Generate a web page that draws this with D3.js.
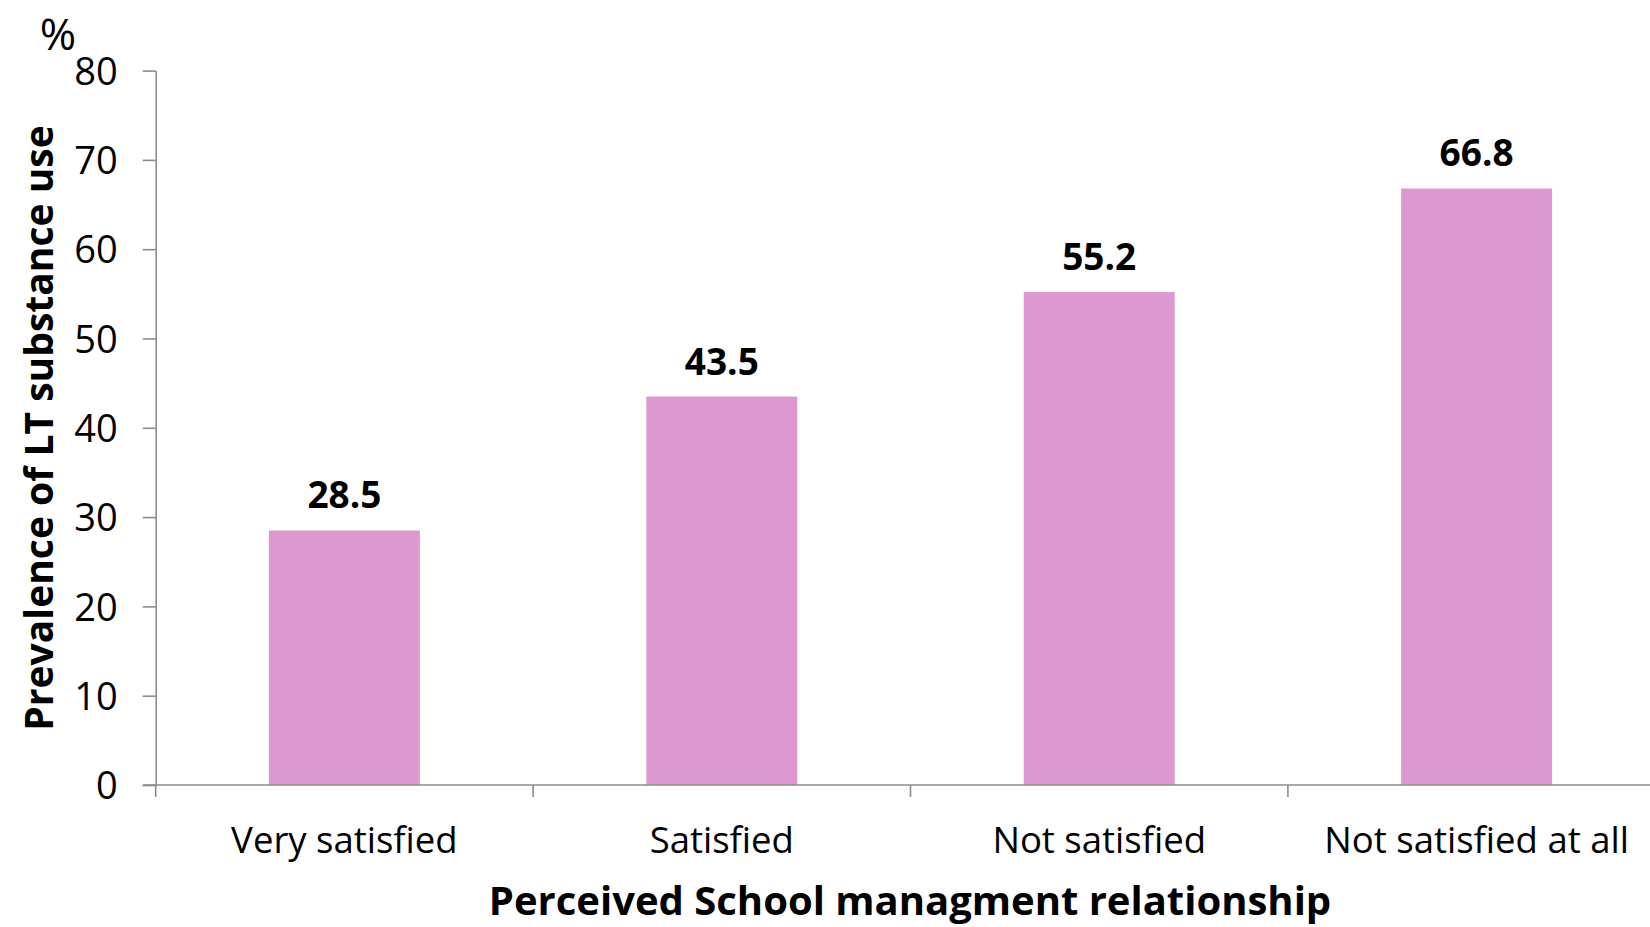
<!DOCTYPE html>
<html>
<head>
<meta charset="utf-8">
<script src="https://cdn.jsdelivr.net/npm/d3@7"></script>
<style>
  html, body { margin: 0; padding: 0; background: #fff; }
  svg { display: block; font-family: 'Open Sans', sans-serif; }
  .axis path, .axis line { stroke: #8c8c8c; stroke-width: 1.6; }
  .axis text { fill: #000; font-size: 36.5px; font-family: 'Open Sans', sans-serif; }
  .y.axis text { font-size: 38px; }
  .bar-label { font-size: 37px; font-weight: bold; fill: #000; }
  .axis-title { font-size: 40px; font-weight: bold; fill: #000; }
</style>
</head>
<body>
<div id="chart"></div>
<script>
const categories = ['Very satisfied', 'Satisfied', 'Not satisfied', 'Not satisfied at all']
const values = [28.5, 43.5, 55.2, 66.8]
const yTicks = [0, 10, 20, 30, 40, 50, 60, 70, 80]

const width = 1650
const height = 927
const plotLeft = 155.7
const plotTop = 70.6
const plotBottom = 785
const step = 377.4

const svg = d3.select('#chart').append('svg')
  .attr('width', width)
  .attr('height', height)

const x = d3.scaleBand()
  .domain(categories)
  .range([plotLeft, plotLeft + step * categories.length])
  .padding(0)

const y = d3.scaleLinear()
  .domain([0, 80])
  .range([plotBottom, plotTop])

// bars
const barW = x.bandwidth() * 0.4
svg.append('g').selectAll('rect')
  .data(values)
  .join('rect')
  .attr('x', (d, i) => x(categories[i]) + (x.bandwidth() - barW) / 2)
  .attr('y', d => y(d))
  .attr('width', barW)
  .attr('height', d => y(0) - y(d))
  .attr('fill', '#de98d1')

// value labels
svg.append('g').selectAll('text')
  .data(values)
  .join('text')
  .attr('class', 'bar-label')
  .attr('x', (d, i) => x(categories[i]) + x.bandwidth() / 2)
  .attr('y', d => y(d) - 22)
  .attr('text-anchor', 'middle')
  .text(d => d.toFixed(1))

// y axis
const yAxis = svg.append('g')
  .attr('class', 'y axis')
  .attr('transform', `translate(${plotLeft},0)`)
  .call(d3.axisLeft(y).tickValues(yTicks).tickSize(13).tickSizeOuter(0).tickPadding(25))
  .attr('font-family', null)
  .attr('font-size', null)
yAxis.selectAll('text').attr('dy', '0.36em')

// x axis
const xAxis = svg.append('g')
  .attr('class', 'x axis')
  .attr('transform', `translate(0,${plotBottom})`)
  .call(d3.axisBottom(x).tickSize(0).tickSizeOuter(0).tickPadding(42))
  .attr('font-family', null)
  .attr('font-size', null)
xAxis.select('.domain').attr('d', `M${plotLeft - 13},0H${width}`)

// boundary ticks between categories
xAxis.selectAll('.sep')
  .data(categories)
  .join('line')
  .attr('class', 'sep')
  .attr('x1', d => x(d))
  .attr('x2', d => x(d))
  .attr('y1', 0)
  .attr('y2', 12)

// titles
svg.append('text')
  .attr('class', 'axis-title')
  .attr('x', 910)
  .attr('y', 915)
  .attr('text-anchor', 'middle')
  .text('Perceived School managment relationship')

svg.append('text')
  .attr('class', 'axis-title')
  .attr('transform', 'translate(53,428) rotate(-90)')
  .style('font-size', '39px')
  .attr('text-anchor', 'middle')
  .text('Prevalence of LT substance use')

svg.append('text')
  .attr('x', 58)
  .attr('y', 50)
  .attr('text-anchor', 'middle')
  .style('font-size', '44px')
  .text('%')
</script>
</body>
</html>
